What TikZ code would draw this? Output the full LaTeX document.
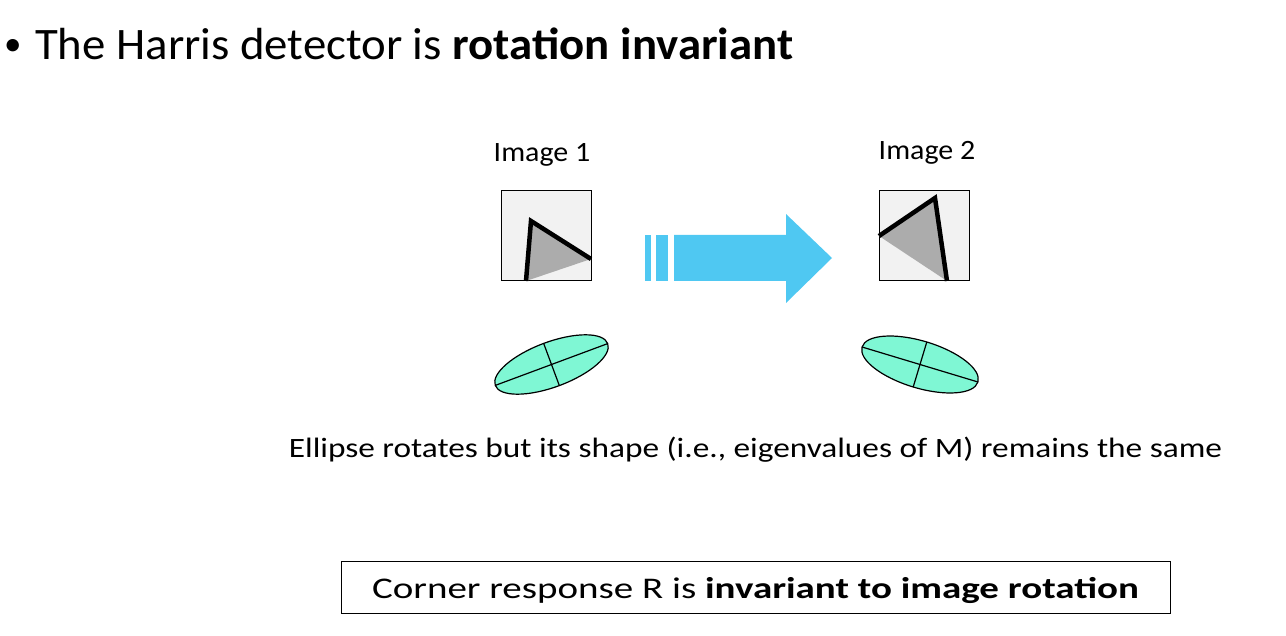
\documentclass[tikz,border=0pt]{standalone}
\usepackage{fontspec}
\setmainfont{Carlito}
\newfontfamily\titlefont[FakeStretch=1.04]{Carlito}
\newfontfamily\labelfont[FakeStretch=1.07]{Carlito}
\newfontfamily\capfont[FakeStretch=1.19]{Carlito}
\newfontfamily\boxfont[FakeStretch=1.3]{Carlito}
\begin{document}
\begin{tikzpicture}[x=1pt,y=-1pt,
  imgbox/.style={draw=black,line width=1pt,fill=boxgray},
  cornerline/.style={line width=4.5pt,line join=miter,line cap=butt},
  eig/.style={draw=black,line width=1.2pt,fill=eigfill},
  axisline/.style={line width=1.2pt},
  lbl/.style={inner sep=0pt,font=\labelfont\fontsize{28}{32}\selectfont}]
\definecolor{boxgray}{HTML}{F2F2F2}
\definecolor{wedge}{HTML}{ACACAC}
\definecolor{arrowblue}{HTML}{4FC8F2}
\definecolor{eigfill}{HTML}{7FF7D4}
\useasboundingbox (0,0) rectangle (1286,636);

% title bullet
\node[inner sep=0pt,anchor=base west,font=\fontsize{35}{38}\selectfont] (bul) at (4,55.5) {\textbullet};
\node[inner sep=0pt,anchor=base west,font=\titlefont\fontsize{45}{50}\selectfont] (title) at (35,60) {The Harris detector is \textbf{rotation invariant}};

% image 1
\node[lbl,anchor=base] (lab1) at (542,162) {Image 1};
\node[imgbox,minimum width=90pt,minimum height=90pt,inner sep=0pt] (img1) at (546,236) {};
\coordinate (a1) at (526,281);
\coordinate (c1) at (531,221);
\coordinate (b1) at (591,259);
\fill[wedge] (a1) -- (c1) -- (b1) -- cycle;
\draw[cornerline] (a1) -- (c1) -- (b1);

% image 2
\node[lbl,anchor=base] (lab2) at (927,160) {Image 2};
\node[imgbox,minimum width=90pt,minimum height=90pt,inner sep=0pt] (img2) at (924,236) {};
\coordinate (a2) at (879,236);
\coordinate (c2) at (935,198);
\coordinate (b2) at (947,281);
\fill[wedge] (a2) -- (c2) -- (b2) -- cycle;
\draw[cornerline] (a2) -- (c2) -- (b2);

% striped arrow
\fill[arrowblue] (645,235) rectangle (651,281);
\fill[arrowblue] (656,235) rectangle (668,281);
\fill[arrowblue] (674,235) -- (786,235) -- (786,214) -- (832,258) -- (786,303) -- (786,281) -- (674,281) -- cycle;

% ellipses
\begin{scope}[shift={(551.5,364.5)},rotate=20.4]
\draw[eig] (0,0) ellipse [x radius=60,y radius=22.5];
\draw[axisline] (-60,0) -- (60,0);
\draw[axisline] (0,-22.5) -- (0,22.5);
\end{scope}
\begin{scope}[shift={(920,364.5)},rotate=-16.8]
\draw[eig] (0,0) ellipse [x radius=60.5,y radius=23.5];
\draw[axisline] (-60.5,0) -- (60.5,0);
\draw[axisline] (0,-23.5) -- (0,23.5);
\end{scope}

\node[inner sep=0pt,anchor=base,font=\capfont\fontsize{28}{32}\selectfont] (cap) at (755.5,457) {Ellipse rotates but its shape (i.e., eigenvalues of M) remains the same};

\node[draw=black,line width=1pt,minimum width=829pt,minimum height=52pt,inner sep=0pt] (res) at (755.5,587) {};
\node[inner sep=0pt,anchor=base,font=\boxfont\fontsize{30}{34}\selectfont] (restext) at (755.5,598) {Corner response R is \textbf{invariant to image rotation}};
\end{tikzpicture}
\end{document}
